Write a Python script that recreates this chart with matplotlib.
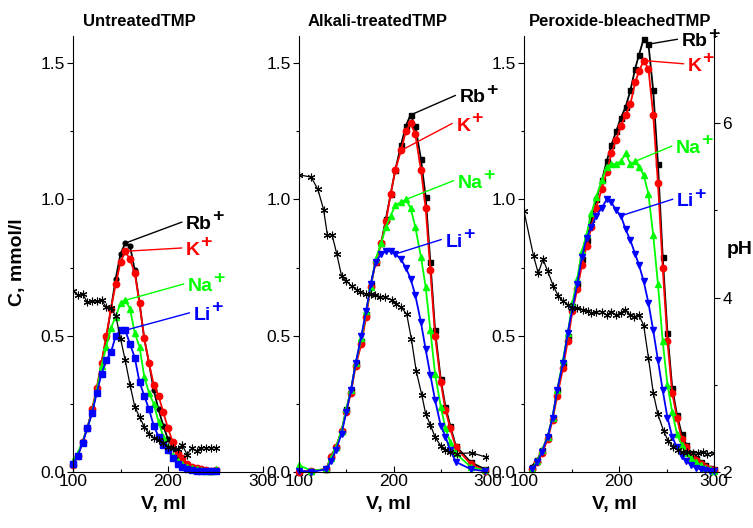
import numpy as np
import matplotlib
matplotlib.use('Agg')
import matplotlib.pyplot as plt
from matplotlib.ticker import MultipleLocator
from matplotlib.text import OffsetFrom

plt.rcParams['font.family'] = ['Liberation Sans', 'DejaVu Sans']

# ---------------- Untreated TMP ----------------
v_untr = [100, 105, 110, 115, 120, 125, 130, 135, 140, 145, 150, 155, 160, 165, 170, 175,
          180, 185, 190, 195, 200, 205, 210, 215, 220, 225, 230, 235, 240, 245, 250]
rb_untr = [0.03, 0.06, 0.11, 0.16, 0.22, 0.30, 0.40, 0.49, 0.60, 0.71, 0.80, 0.84, 0.83, 0.74, 0.62, 0.49,
           0.40, 0.30, 0.23, 0.17, 0.12, 0.09, 0.06, 0.04, 0.03, 0.02, 0.015, 0.01, 0.007, 0.005, 0.008]
k_untr = [0.025, 0.06, 0.11, 0.16, 0.23, 0.31, 0.40, 0.50, 0.60, 0.69, 0.77, 0.81, 0.78, 0.73, 0.62, 0.49,
          0.40, 0.32, 0.28, 0.22, 0.16, 0.11, 0.07, 0.05, 0.03, 0.02, 0.015, 0.01, 0.006, 0.004, 0.008]
na_untr = [0.04, 0.07, 0.11, 0.16, 0.22, 0.30, 0.39, 0.46, 0.53, 0.57, 0.62, 0.63, 0.60, 0.51, 0.46, 0.35,
           0.29, 0.25, 0.185, 0.13, 0.09, 0.06, 0.04, 0.03, 0.02, 0.015, 0.01, 0.007, 0.005, 0.004, 0.01]
li_untr = [0.03, 0.06, 0.105, 0.16, 0.215, 0.29, 0.36, 0.41, 0.44, 0.50, 0.52, 0.52, 0.47, 0.42, 0.33, 0.28,
           0.23, 0.17, 0.13, 0.10, 0.08, 0.05, 0.03, 0.02, 0.012, 0.008, 0.005, 0.003, 0.002, 0.002, 0.004]
ph_untr = [4.08, 4.03, 4.04, 3.95, 3.96, 3.96, 3.97, 3.89, 3.88, 3.79, 3.53, 3.28, 3.00, 2.75, 2.63, 2.52,
           2.44, 2.39, 2.37, 2.33, 2.29, 2.27, 2.26, 2.31, 2.20, 2.27, 2.24, 2.28, 2.28, 2.28, 2.28]

# ---------------- Alkali-treated TMP ----------------
v_alk = [100, 113, 129, 134, 139, 145, 150, 155, 160, 166, 171, 176, 181, 187, 192, 197,
         202, 208, 213, 218, 223, 229, 234, 239, 244, 250, 255, 260, 266, 282, 297]
rb_alk = [0.0, 0.005, 0.01, 0.06, 0.09, 0.15, 0.23, 0.30, 0.40, 0.48, 0.58, 0.69, 0.77, 0.84, 0.93, 1.02,
          1.11, 1.20, 1.27, 1.31, 1.27, 1.15, 1.01, 0.77, 0.52, 0.34, 0.24, 0.17, 0.095, 0.035, 0.01]
k_alk = [0.0, 0.005, 0.01, 0.055, 0.09, 0.15, 0.22, 0.29, 0.39, 0.47, 0.57, 0.68, 0.77, 0.84, 0.92, 1.02,
         1.11, 1.18, 1.25, 1.28, 1.24, 1.11, 0.97, 0.74, 0.50, 0.33, 0.227, 0.16, 0.09, 0.028, 0.005]
na_alk = [0.025, 0.005, 0.01, 0.05, 0.09, 0.15, 0.23, 0.30, 0.40, 0.49, 0.59, 0.68, 0.78, 0.84, 0.90, 0.94,
          0.98, 0.99, 1.0, 0.97, 0.90, 0.79, 0.68, 0.52, 0.36, 0.24, 0.16, 0.11, 0.068, 0.018, 0.006]
li_alk = [0.005, 0.0, 0.01, 0.04, 0.08, 0.14, 0.22, 0.30, 0.40, 0.50, 0.59, 0.69, 0.77, 0.80, 0.81, 0.81,
          0.80, 0.78, 0.75, 0.71, 0.65, 0.55, 0.45, 0.356, 0.264, 0.17, 0.13, 0.08, 0.037, 0.01, 0.003]
v_ph_alk = [100, 113, 120, 126, 130, 135, 140, 145, 150, 156, 161, 165, 171, 176, 180, 186, 191,
            198, 203, 208, 214, 219, 224, 230, 234, 239, 244, 250, 255, 260, 267, 283, 298]
ph_alk = [5.41, 5.38, 5.24, 5.01, 4.72, 4.72, 4.50, 4.25, 4.19, 4.13, 4.09, 4.06, 4.04, 4.04, 4.03, 4.01, 4.01,
          3.97, 3.93, 3.89, 3.81, 3.52, 3.16, 2.88, 2.67, 2.54, 2.40, 2.30, 2.25, 2.23, 2.21, 2.22, 2.17]

# ---------------- Peroxide-bleached TMP ----------------
v_per = [108, 114, 119, 125, 130, 135, 141, 146, 151, 156, 161, 166, 171, 176, 182, 187, 192, 197, 202, 207,
         212, 217, 221, 226, 231, 236, 241, 246, 251, 256, 261, 266, 271, 276, 281, 286, 291, 296, 300]
rb_per = [0.02, 0.045, 0.08, 0.13, 0.20, 0.30, 0.40, 0.50, 0.61, 0.69, 0.78, 0.85, 0.93, 1.0, 1.07, 1.14, 1.20, 1.25, 1.30, 1.34,
          1.40, 1.48, 1.53, 1.59, 1.57, 1.40, 1.13, 0.79, 0.51, 0.31, 0.21, 0.14, 0.10, 0.07, 0.05, 0.035, 0.025, 0.015, 0.01]
k_per = [0.01, 0.035, 0.07, 0.12, 0.19, 0.28, 0.38, 0.48, 0.59, 0.67, 0.76, 0.83, 0.90, 0.97, 1.04, 1.10, 1.17, 1.22, 1.27, 1.31,
         1.35, 1.43, 1.47, 1.51, 1.48, 1.31, 1.06, 0.75, 0.48, 0.29, 0.20, 0.12, 0.09, 0.06, 0.045, 0.03, 0.02, 0.01, 0.008]
na_per = [0.01, 0.04, 0.08, 0.13, 0.20, 0.30, 0.41, 0.51, 0.62, 0.71, 0.81, 0.875, 0.95, 1.01, 1.07, 1.12, 1.13, 1.13, 1.14, 1.17,
          1.13, 1.14, 1.12, 1.09, 1.02, 0.87, 0.69, 0.48, 0.32, 0.22, 0.14, 0.10, 0.07, 0.05, 0.035, 0.025, 0.015, 0.01, 0.005]
li_per = [0.01, 0.035, 0.075, 0.13, 0.20, 0.30, 0.40, 0.51, 0.60, 0.69, 0.79, 0.86, 0.90, 0.94, 0.97, 1.0, 0.99, 0.96, 0.94, 0.89,
          0.85, 0.80, 0.76, 0.70, 0.62, 0.52, 0.41, 0.30, 0.20, 0.13, 0.09, 0.06, 0.04, 0.025, 0.015, 0.01, 0.006, 0.004, 0.002]
v_ph_per = [100, 110, 115, 120, 125, 131, 136, 141, 146, 151, 156, 162, 167, 171, 176, 182, 187, 192, 197, 202,
            206, 212, 216, 221, 226, 231, 236, 241, 247, 252, 257, 262, 267, 272, 278, 283, 288, 293, 300]
ph_per = [4.99, 4.48, 4.28, 4.44, 4.30, 4.13, 4.02, 3.96, 3.92, 3.88, 3.88, 3.86, 3.85, 3.82, 3.84, 3.84, 3.80, 3.84, 3.80, 3.82,
          3.86, 3.80, 3.78, 3.80, 3.68, 3.31, 2.91, 2.66, 2.47, 2.35, 2.29, 2.25, 2.23, 2.23, 2.22, 2.22, 2.23, 2.21, 2.22]

ions = ['Rb', 'K', 'Na', 'Li']
colors = ['black', '#ff0000', '#00ff00', '#0000ff']

fig = plt.figure(figsize=(7.53, 5.28), dpi=100)

# axes boxes in pixels: left, width
boxes = [(73, 190), (299, 189), (524, 190)]
bottom_px, top_px = 472, 36
W, H = 753.0, 528.0
TICK_FS = 12.5


def style_axis(ax):
    ax.set_xlim(100, 300)
    ax.set_ylim(0, 1.6)
    ax.xaxis.set_major_locator(MultipleLocator(100))
    ax.xaxis.set_minor_locator(MultipleLocator(50))
    ax.yaxis.set_major_locator(MultipleLocator(0.5))
    ax.yaxis.set_minor_locator(MultipleLocator(0.25))
    ax.tick_params(axis='y', which='major', direction='out', length=4, width=0.8, labelsize=TICK_FS, pad=2)
    ax.tick_params(axis='y', which='minor', direction='out', length=2.5, width=0.8)
    ax.tick_params(axis='x', which='major', direction='in', length=4, width=0.8, labelsize=TICK_FS, pad=1.5)
    ax.tick_params(axis='x', which='minor', direction='in', length=2.5, width=0.8)
    ax.spines['top'].set_visible(False)
    ax.spines['right'].set_visible(False)
    for s in ('left', 'bottom'):
        ax.spines[s].set_linewidth(0.8)


def label_ion(ax, name, color, anchor, text_xy):
    t = ax.text(text_xy[0], text_xy[1], name, fontsize=14, fontweight='bold', color=color,
                va='baseline', ha='left')
    # leader line from the curve to the label
    ax.annotate('', xy=anchor, xytext=(-3, 8), textcoords=OffsetFrom(t, (0, 0), unit='points'),
                arrowprops=dict(arrowstyle='-', color=color, lw=1.0, shrinkA=0, shrinkB=0))
    ax.annotate('+', xy=(1, 0), xycoords=t, xytext=(0.3, 8.5), textcoords='offset points',
                fontsize=14, fontweight='bold', color=color, va='baseline', ha='left')


panels = [
    dict(v=v_untr, ys=[rb_untr, k_untr, na_untr, li_untr], markers=['o', 'o', '^', 's'],
         ms=[3.4, 4.6, 4.8, 4.4], vph=v_untr, ph=ph_untr, title='UntreatedTMP', tx=83,
         anchors=[11, 11, 11, 11],
         texts=[(219, 0.891), (219, 0.796), (221, 0.664), (227, 0.558)]),
    dict(v=v_alk, ys=[rb_alk, k_alk, na_alk, li_alk], markers=['s', 'o', '^', 'v'],
         ms=[3.6, 4.6, 4.8, 4.8], vph=v_ph_alk, ph=ph_alk, title='Alkali-treatedTMP', tx=308,
         anchors=[19, 17, 18, 16],
         texts=[(270, 1.356), (266.5, 1.253), (268, 1.043), (255, 0.827)]),
    dict(v=v_per, ys=[rb_per, k_per, na_per, li_per], markers=['s', 'o', '^', 'v'],
         ms=[3.6, 4.6, 4.8, 4.8], vph=v_ph_per, ph=ph_per, title='Peroxide-bleachedTMP', tx=529,
         anchors=[24, 23, 21, 18],
         texts=[(266, 1.562), (272.5, 1.472), (260, 1.17), (261, 0.975)]),
]

for i, (p, (lpx, wpx)) in enumerate(zip(panels, boxes)):
    ax = fig.add_axes([lpx / W, 1 - bottom_px / H, wpx / W, (bottom_px - top_px) / H])
    style_axis(ax)
    for y, c, m, ms in zip(p['ys'], colors, p['markers'], p['ms']):
        ax.plot(p['v'], y, color=c, marker=m, ms=ms, mec=c, mfc=c, lw=1.3, clip_on=False)
    for name, c, y, idx, txy in zip(ions, colors, p['ys'], p['anchors'], p['texts']):
        label_ion(ax, name, c, (p['v'][idx], y[idx]), txy)

    axr = ax.twinx()
    axr.set_ylim(2, 7)
    axr.plot(p['vph'], p['ph'], color='black', lw=0.9, marker=(6, 2, 0), ms=5.5, mew=0.8)
    axr.spines['top'].set_visible(False)
    axr.spines['left'].set_visible(False)
    axr.spines['bottom'].set_visible(False)
    if i == 2:
        axr.yaxis.set_major_locator(MultipleLocator(2))
        axr.yaxis.set_minor_locator(MultipleLocator(1))
        axr.tick_params(which='major', direction='out', length=4, width=0.8, labelsize=TICK_FS, pad=2)
        axr.tick_params(which='minor', direction='out', length=2.5, width=0.8)
        axr.spines['right'].set_linewidth(0.8)
    else:
        axr.spines['right'].set_visible(False)
        axr.set_yticks([])

    fig.text(p['tx'] / W, 1 - 21 / H, p['title'], fontsize=12, fontweight='bold', va='center', ha='left')
    fig.text((lpx + wpx / 2 - 5) / W, 1 - 505 / H, 'V, ml', fontsize=14, fontweight='bold',
             va='center', ha='center')

fig.text(18 / W, 1 - 262 / H, 'C, mmol/l', fontsize=14, fontweight='bold', rotation=90,
         va='center', ha='center')
fig.text(740 / W, 1 - 250 / H, 'pH', fontsize=14, fontweight='bold', va='center', ha='center')

fig.savefig('out.png', dpi=100)
